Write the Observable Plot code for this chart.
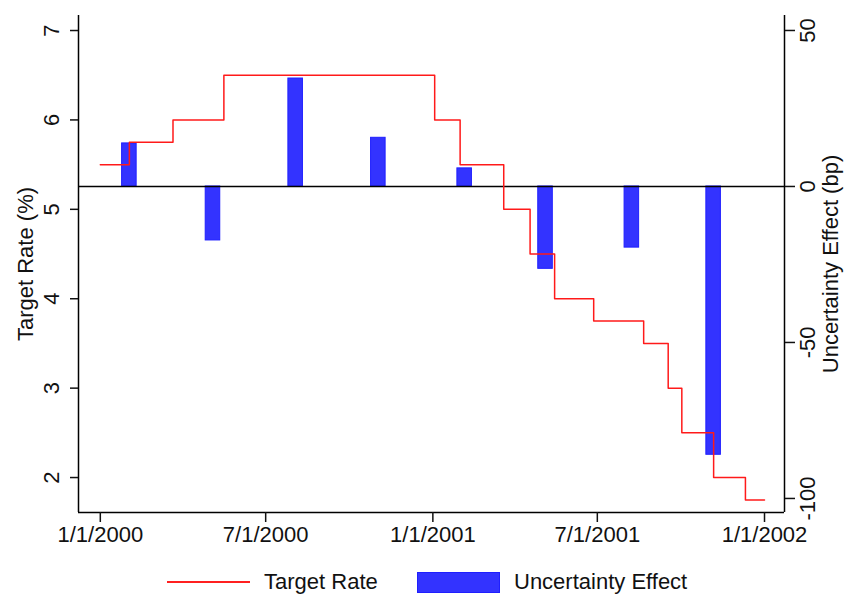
<!DOCTYPE html>
<html>
<head>
<meta charset="utf-8">
<script src="https://cdn.jsdelivr.net/npm/d3@7"></script>
<script src="https://cdn.jsdelivr.net/npm/@observablehq/plot@0.6"></script>
<style>
  body { margin: 0; background: #fff; font-family: Arial, "Liberation Sans", sans-serif; }
  #wrap { position: relative; width: 844px; height: 595px; overflow: hidden; background: #fff; }
  #chart svg { display: block; }
  .lg { position: absolute; }
  .lg-text { font-size: 22px; line-height: 22px; color: #111; white-space: nowrap; }
</style>
</head>
<body>
<div id="wrap">
  <div id="chart"></div>
  <div class="lg" style="left:167px; top:581px; width:83px; height:0; border-top:2px solid #ff2020;"></div>
  <div class="lg lg-text" style="left:264px; top:571px;">Target Rate</div>
  <div class="lg" style="left:417px; top:572px; width:81px; height:19px; background:#3333ff; border:1px solid #1f1fff;"></div>
  <div class="lg lg-text" style="left:514px; top:571px;">Uncertainty Effect</div>
</div>
<script>
// ---- data ----
const rateDates = ["2000-01-01","2000-02-02","2000-03-21","2000-05-16","2001-01-03","2001-01-31",
                   "2001-03-20","2001-04-18","2001-05-15","2001-06-27","2001-08-21","2001-09-17",
                   "2001-10-02","2001-11-06","2001-12-11","2002-01-01"];
const rateValues = [5.5, 5.75, 6.0, 6.5, 6.0, 5.5, 5.0, 4.5, 4.0, 3.75, 3.5, 3.0, 2.5, 2.0, 1.75, 1.75];

const effectDates = ["2000-02-02","2000-05-04","2000-08-03","2000-11-02",
                     "2001-02-05","2001-05-05","2001-08-08","2001-11-06"];
const effectValues = [13.8, -17.3, 34.6, 15.6, 5.8, -26.4, -19.6, -86.0];

const xTickDates = ["2000-01-01","2000-07-01","2001-01-01","2001-07-01","2002-01-01"];
const xTickLabels = ["1/1/2000","7/1/2000","1/1/2001","7/1/2001","1/1/2002"];
const leftTicks = [2, 3, 4, 5, 6, 7];
const rightTicks = [-100, -50, 0, 50];
const leftTitle = "Target Rate (%)";
const rightTitle = "Uncertainty Effect (bp)";

// ---- scales ----
const parse = d3.utcParse("%Y-%m-%d");
const xDomain = [parse("1999-12-08"), parse("2002-01-23")];
const L = [1.609, 7.168];     // left axis domain (%)
const R = [-104.5, 54.8];     // right axis domain (bp)
const toLeft = v => L[0] + (v - R[0]) * (L[1] - L[0]) / (R[1] - R[0]);
const fromLeft = y => R[0] + (y - L[0]) * (R[1] - R[0]) / (L[1] - L[0]);

const rates = rateDates.map((d, i) => ({date: parse(d), rate: rateValues[i]}));
const effects = effectDates.map((d, i) => ({date: parse(d), value: effectValues[i]}));
const halfBar = 8 * 864e5;
const xTicks = xTickDates.map(parse);
const zero = toLeft(0);

const chart = Plot.plot({
  width: 844,
  height: 560,
  marginLeft: 78,
  marginRight: 60,
  marginTop: 15,
  marginBottom: 48,
  style: {fontFamily: "Arial, 'Liberation Sans', sans-serif", fontSize: "22px", color: "#111", background: "#fff", overflow: "visible"},
  x: {type: "utc", domain: xDomain},
  y: {domain: L},
  marks: [
    Plot.rect(effects, {
      x1: d => new Date(+d.date - halfBar),
      x2: d => new Date(+d.date + halfBar),
      y1: () => zero,
      y2: d => toLeft(d.value),
      fill: "#3333ff", stroke: "#1f1fff", strokeWidth: 1
    }),
    Plot.ruleY([zero], {stroke: "#000", strokeWidth: 1.5}),
    Plot.line(rates, {x: "date", y: "rate", curve: "step-after", stroke: "#ff1a1a", strokeWidth: 1.5}),
    Plot.ruleX(xDomain, {stroke: "#000", strokeWidth: 1.5}),
    Plot.ruleY([L[0]], {stroke: "#000", strokeWidth: 1.5}),
    Plot.axisX(xTicks, {
      anchor: "bottom", tickSize: 10, tickPadding: 4, strokeWidth: 1.5, label: null,
      tickFormat: d => xTickLabels[xTicks.findIndex(t => +t === +d)]
    }),
    Plot.axisY(leftTicks, {
      anchor: "left", tickSize: 8, tickPadding: 12, tickRotate: -90, strokeWidth: 1.5, label: null,
      tickFormat: d => String(d)
    }),
    Plot.axisY(rightTicks.map(toLeft), {
      anchor: "right", tickSize: 10, tickPadding: 5, tickRotate: -90, lineAnchor: "top",
      strokeWidth: 1.5, label: null,
      tickFormat: d => String(Math.round(fromLeft(d)))
    }),
    Plot.text([leftTitle], {text: d => d, frameAnchor: "left", textAnchor: "middle", rotate: -90, dx: -53, fontSize: 22, fill: "#111"}),
    Plot.text([rightTitle], {text: d => d, frameAnchor: "right", textAnchor: "middle", rotate: -90, dx: 46, fontSize: 22, fill: "#111"})
  ]
});
document.getElementById("chart").appendChild(chart);
</script>
</body>
</html>
